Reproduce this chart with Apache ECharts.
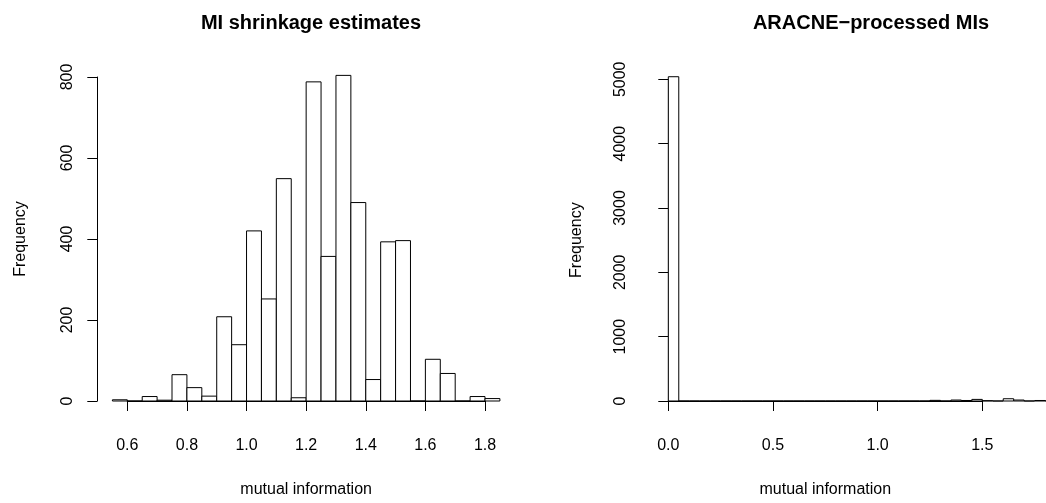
<!DOCTYPE html>
<html>
<head>
<meta charset="utf-8">
<script src="https://cdn.jsdelivr.net/npm/echarts@6/dist/echarts.min.js"></script>
<style>
html,body{margin:0;padding:0;background:#fff;}
#chart{width:1046px;height:503px;}
</style>
</head>
<body>
<div id="chart"></div>
<script>
// ---- data ----
const binWidth = 0.05;
const leftBinStarts = [0.55,0.60,0.65,0.70,0.75,0.80,0.85,0.90,0.95,1.00,1.05,1.10,1.15,1.20,1.25,1.30,1.35,1.40,1.45,1.50,1.55,1.60,1.65,1.70,1.75,1.80];
const leftCounts    = [3,0,11,2,65,33,12,208,139,420,252,549,8,788,357,804,490,53,393,396,0,103,68,0,11,6];
const rightBinStarts = [0.00,0.05,0.10,0.15,0.20,0.25,0.30,0.35,0.40,0.45,0.50,0.55,0.60,0.65,0.70,0.75,0.80,0.85,0.90,0.95,1.00,1.05,1.10,1.15,1.20,1.25,1.30,1.35,1.40,1.45,1.50,1.55,1.60,1.65,1.70,1.75,1.80];
const rightCounts    = [5040,0,0,0,0,0,0,0,0,0,0,0,0,0,0,0,0,0,0,0,0,0,0,0,0,10,0,15,8,25,5,0,35,15,0,8,3];
const leftXTicks = [0.6, 1.8, 0.2];
const leftYTicks = [0, 800, 200];
const rightXTicks = [0.0, 1.5, 0.5];
const rightYTicks = [0, 5000, 1000];
const titles = ['MI shrinkage estimates', 'ARACNE\u2212processed MIs'];
const xName = 'mutual information';
const yName = 'Frequency';

// ---- chart ----
const FONT = '"Liberation Sans", Arial, Helvetica, sans-serif';
const chart = echarts.init(document.getElementById('chart'), null, {renderer: 'canvas'});

function histData(starts, counts) {
  return starts.map((s, i) => [s, s + binWidth, counts[i]]);
}
function renderBar(params, api) {
  const p0 = api.coord([api.value(0), 0]);
  const p1 = api.coord([api.value(1), api.value(2)]);
  return {
    type: 'rect',
    shape: {x: p0[0], y: p1[1], width: p1[0] - p0[0], height: p0[1] - p1[1]},
    style: {fill: '#ffffff', stroke: '#000000', lineWidth: 1}
  };
}
const axisLine = {show: true, lineStyle: {color: '#000', width: 1}};
const axisTick = {show: true, length: 10, inside: false, lineStyle: {color: '#000', width: 1}};
const labelStyle = {color: '#000', fontSize: 16, fontFamily: FONT};

function xAxisFor(grid, t, decimals) {
  return {
    type: 'value', gridIndex: grid, min: t[0], max: t[1], interval: t[2],
    position: 'bottom', offset: 13,
    axisLine: axisLine, axisTick: axisTick, splitLine: {show: false},
    axisLabel: Object.assign({margin: 24, formatter: v => v.toFixed(decimals)}, labelStyle),
    name: xName, nameLocation: 'middle', nameGap: 68,
    nameTextStyle: Object.assign({}, labelStyle)
  };
}
function yAxisFor(grid, t, off, nameGap) {
  return {
    type: 'value', gridIndex: grid, min: t[0], max: t[1], interval: t[2],
    position: 'left', offset: off,
    axisLine: axisLine, axisTick: axisTick, splitLine: {show: false},
    axisLabel: Object.assign({margin: 22, rotate: 90, formatter: v => String(v)}, labelStyle),
    name: yName, nameLocation: 'middle', nameGap: nameGap, nameRotate: 90,
    nameTextStyle: Object.assign({}, labelStyle)
  };
}

chart.setOption({
  animation: false,
  backgroundColor: '#ffffff',
  title: [
    {text: titles[0], left: 306, top: 8, textAlign: 'center',
     textStyle: {fontSize: 20, fontWeight: 'bold', color: '#000', fontFamily: FONT}},
    {text: titles[1], left: 866, top: 8, textAlign: 'center',
     textStyle: {fontSize: 20, fontWeight: 'bold', color: '#000', fontFamily: FONT}}
  ],
  grid: [
    {left: 127.3, right: 1046 - 485, top: 77, bottom: 503 - 401.7},
    {left: 668.3, right: 1046 - 982.3, top: 79.3, bottom: 503 - 401.7}
  ],
  xAxis: [xAxisFor(0, leftXTicks, 1), xAxisFor(1, rightXTicks, 1)],
  yAxis: [yAxisFor(0, leftYTicks, 30, 69), yAxisFor(1, rightYTicks, 17.6, 66)],
  series: [
    {type: 'custom', xAxisIndex: 0, yAxisIndex: 0, clip: false,
     data: histData(leftBinStarts, leftCounts), renderItem: renderBar,
     encode: {x: [0, 1], y: 2}},
    {type: 'custom', xAxisIndex: 1, yAxisIndex: 1, clip: false,
     data: histData(rightBinStarts, rightCounts), renderItem: renderBar,
     encode: {x: [0, 1], y: 2}}
  ]
});
</script>
</body>
</html>
